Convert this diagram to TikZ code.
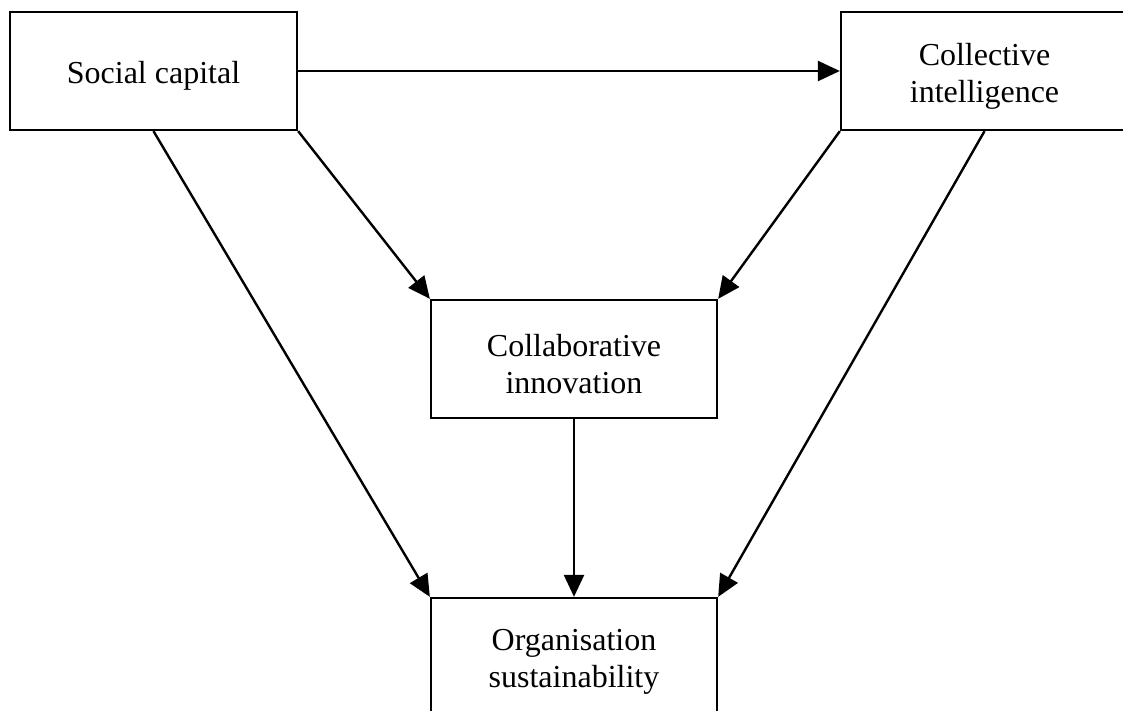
\documentclass[tikz,border=0pt]{standalone}
\usepackage{fontspec}
\setmainfont{Liberation Serif}
\usetikzlibrary{arrows.meta}
\begin{document}
\begin{tikzpicture}[x=1pt,y=1pt,
  boxnode/.style={draw=black, line width=2.3pt, minimum width=287pt, minimum height=118pt,
    inner sep=0pt},
  boxtext/.style={align=center, inner sep=0pt, yshift=-5pt, font=\fontsize{32pt}{37pt}\selectfont},
  conn/.style={line width=2.4pt, -{Triangle[length=22pt,width=20pt]}}]
\useasboundingbox (0,0) rectangle (1123,710);
\clip (0,0) rectangle (1123,710);
\node[boxnode, label={[boxtext]center:Social capital}] (sc) at (153.5,639) {};
\node[boxnode, label={[boxtext]center:Collective\\intelligence}] (ci) at (984.5,639) {};
\node[boxnode, minimum width=286pt, label={[boxtext]center:Collaborative\\innovation}] (cin) at (574,351) {};
\node[boxnode, minimum width=286pt, label={[boxtext]center:Organisation\\sustainability}] (os) at (574,53) {};
\draw[conn] (sc.east) -- (ci.west);
\draw[conn] (sc.south east) -- (cin.north west);
\draw[conn] (sc.south) -- (os.north west);
\draw[conn] (ci.south west) -- (cin.north east);
\draw[conn] (ci.south) -- (os.north east);
\draw[conn] (cin.south) -- (os.north);
\end{tikzpicture}
\end{document}
